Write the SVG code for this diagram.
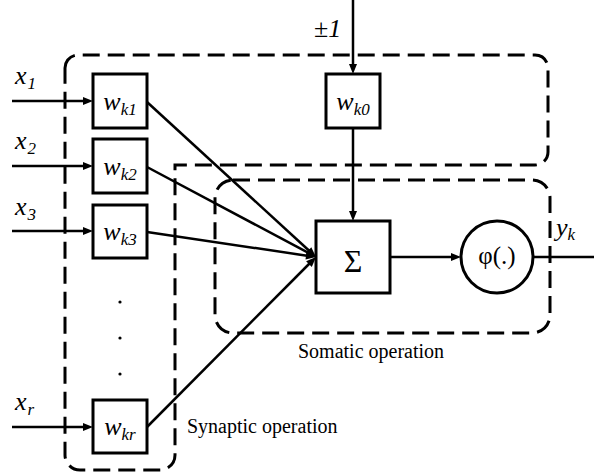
<svg xmlns="http://www.w3.org/2000/svg" width="594" height="474" viewBox="0 0 594 474">
  <rect width="594" height="474" fill="#fff"/>

  <!-- dashed outlines of the two operation regions -->
  <g id="regions" fill="none" stroke="#000" stroke-width="3" stroke-dasharray="17 8">
    <path id="synaptic-region" d="M65,68 A13,13 0 0 1 78,55 H535 A13,13 0 0 1 548,68 V152 A13,13 0 0 1 535,165 H175 V455 A15,15 0 0 1 160,470 H80 A15,15 0 0 1 65,455 Z"/>
    <path id="somatic-region" d="M233,180 H532 A18,18 0 0 1 550,198 V315 A18,18 0 0 1 532,333 H233 A18,18 0 0 1 215,315 V198 A18,18 0 0 1 233,180 Z"/>
  </g>

  <!-- connectors with their arrowheads -->
  <g id="connectors">
    <g fill="none" stroke="#000" stroke-width="2.5">
      <line x1="12" y1="101" x2="85" y2="101"/>
      <line x1="12" y1="166" x2="85" y2="166"/>
      <line x1="12" y1="231" x2="85" y2="231"/>
      <line x1="12" y1="427" x2="85" y2="427"/>
      <line x1="353" y1="0" x2="353" y2="66"/>
      <line x1="353" y1="128" x2="353" y2="213"/>
      <line x1="147" y1="102" x2="310" y2="251.5"/>
      <line x1="147" y1="167" x2="308" y2="252.7"/>
      <line x1="147" y1="232" x2="307" y2="255.7"/>
      <line x1="147" y1="427" x2="310" y2="263"/>
      <line x1="390" y1="257" x2="453" y2="257"/>
      <line x1="533" y1="257" x2="594" y2="257"/>
    </g>
    <g fill="#000">
      <polygon points="83,97 93,101 83,105"/>
      <polygon points="83,162 93,166 83,170"/>
      <polygon points="83,227 93,231 83,235"/>
      <polygon points="83,423 93,427 83,431"/>
      <polygon points="349,64 353,74 357,64"/>
      <polygon points="349,211 353,221 357,211"/>
      <polygon points="305.9,253.2 316,257 311.3,247.3"/>
      <polygon points="305.3,255.8 316,257 309.1,248.8"/>
      <polygon points="305.5,259.5 316,257 306.7,251.6"/>
      <polygon points="311.8,266.9 316,257 306.1,261.3"/>
      <polygon points="451,253 461,257 451,261"/>
    </g>
  </g>

  <!-- input labels -->
  <g id="inputs">
    <text font-family="Liberation Serif" font-style="italic" font-size="26" x="15" y="84">x<tspan font-size="17" dx="1" dy="5">1</tspan></text>
    <text font-family="Liberation Serif" font-style="italic" font-size="26" x="15" y="149">x<tspan font-size="17" dx="1" dy="5">2</tspan></text>
    <text font-family="Liberation Serif" font-style="italic" font-size="26" x="15" y="215">x<tspan font-size="17" dx="1" dy="5">3</tspan></text>
    <text font-family="Liberation Serif" font-style="italic" font-size="26" x="15" y="410">x<tspan font-size="17" dx="1" dy="5">r</tspan></text>
    <text font-family="Liberation Serif" font-style="italic" font-size="26" x="314" y="37"><tspan font-style="normal">±</tspan>1</text>
  </g>

  <g id="w-k1">
    <rect x="93" y="74" width="54" height="54" fill="#fff" stroke="#000" stroke-width="3"/>
    <text font-family="Liberation Serif" font-style="italic" font-size="26" x="120" y="110" text-anchor="middle">w<tspan font-size="17" dy="5">k1</tspan></text>
  </g>
  <g id="w-k2">
    <rect x="93" y="139" width="54" height="54" fill="#fff" stroke="#000" stroke-width="3"/>
    <text font-family="Liberation Serif" font-style="italic" font-size="26" x="120" y="175" text-anchor="middle">w<tspan font-size="17" dy="5">k2</tspan></text>
  </g>
  <g id="w-k3">
    <rect x="93" y="205" width="54" height="53" fill="#fff" stroke="#000" stroke-width="3"/>
    <text font-family="Liberation Serif" font-style="italic" font-size="26" x="120" y="240" text-anchor="middle">w<tspan font-size="17" dy="5">k3</tspan></text>
  </g>
  <g id="w-kr">
    <rect x="93" y="400" width="54" height="53" fill="#fff" stroke="#000" stroke-width="3"/>
    <text font-family="Liberation Serif" font-style="italic" font-size="26" x="120" y="435" text-anchor="middle">w<tspan font-size="17" dy="5">kr</tspan></text>
  </g>
  <g id="w-k0">
    <rect x="326" y="74" width="54" height="54" fill="#fff" stroke="#000" stroke-width="3"/>
    <text font-family="Liberation Serif" font-style="italic" font-size="26" x="353" y="110" text-anchor="middle">w<tspan font-size="17" dy="5">k0</tspan></text>
  </g>

  <!-- ellipsis between w_k3 and w_kr -->
  <g id="ellipsis" fill="#000">
    <circle cx="120" cy="302" r="1.6"/>
    <circle cx="120" cy="338" r="1.6"/>
    <circle cx="120" cy="374" r="1.6"/>
  </g>

  <g id="summation">
    <rect x="316" y="221" width="74" height="72" fill="#fff" stroke="#000" stroke-width="3"/>
    <text font-family="Liberation Serif" x="353" y="272" font-size="32" text-anchor="middle">Σ</text>
  </g>

  <g id="activation">
    <circle cx="497" cy="257" r="36" fill="#fff" stroke="#000" stroke-width="3"/>
    <text font-family="Liberation Serif" x="497" y="264" font-size="25" text-anchor="middle">φ(.)</text>
  </g>

  <g id="output">
    <text font-family="Liberation Serif" font-style="italic" font-size="26" x="556" y="236">y<tspan font-size="17" dy="4">k</tspan></text>
  </g>

  <g id="captions">
    <text font-family="Liberation Serif" font-size="20" x="298" y="358">Somatic operation</text>
    <text font-family="Liberation Serif" font-size="20" x="187" y="433">Synaptic operation</text>
  </g>
</svg>
